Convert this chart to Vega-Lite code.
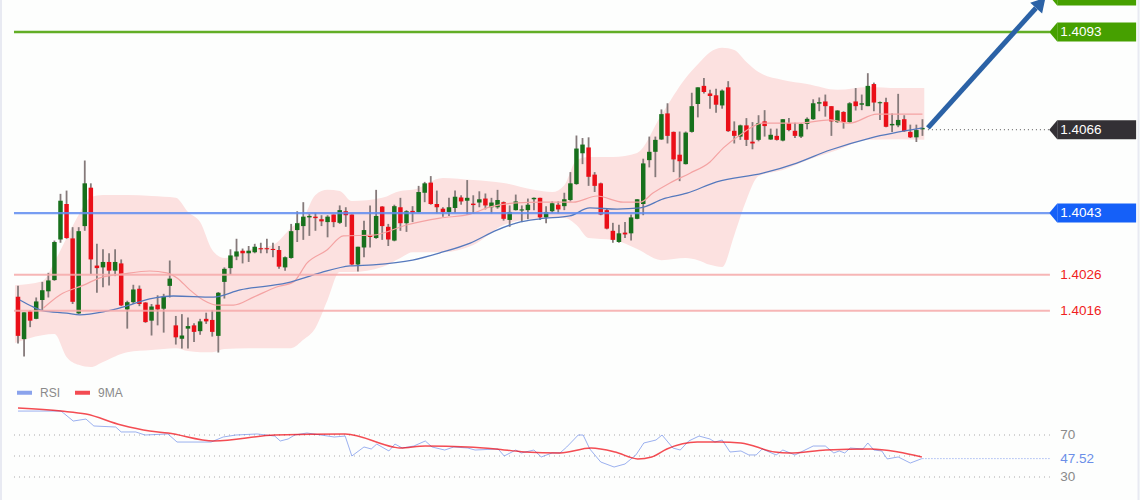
{
  "$schema": "https://vega.github.io/schema/vega-lite/v6.json",
  "description": "Hourly candlestick chart with Bollinger band, key levels and RSI panel",
  "width": 1140,
  "height": 500,
  "autosize": {"type": "none"},
  "padding": 0,
  "background": "#fdfefd",
  "config": {
    "view": {"stroke": null},
    "axis": {"disable": true},
    "font": "Liberation Sans"
  },
  "datasets": {
    "candles": [
      {"bar":0,"open":1.40199,"high":1.40229,"low":1.4007,"close":1.40091},
      {"bar":1,"open":1.40082,"high":1.40156,"low":1.40034,"close":1.40156},
      {"bar":2,"open":1.40159,"high":1.40162,"low":1.40115,"close":1.40133},
      {"bar":3,"open":1.40138,"high":1.40197,"low":1.40137,"close":1.40186},
      {"bar":4,"open":1.4019,"high":1.4024,"low":1.40162,"close":1.40217},
      {"bar":5,"open":1.40214,"high":1.40265,"low":1.40197,"close":1.40244},
      {"bar":6,"open":1.40245,"high":1.40354,"low":1.40243,"close":1.4035},
      {"bar":7,"open":1.40357,"high":1.40483,"low":1.40348,"close":1.40464},
      {"bar":8,"open":1.40455,"high":1.40492,"low":1.40359,"close":1.40361},
      {"bar":9,"open":1.4036,"high":1.40391,"low":1.40179,"close":1.40185},
      {"bar":10,"open":1.40153,"high":1.40391,"low":1.40151,"close":1.4038},
      {"bar":11,"open":1.40394,"high":1.40575,"low":1.40381,"close":1.40512},
      {"bar":12,"open":1.405,"high":1.40512,"low":1.40262,"close":1.40302},
      {"bar":13,"open":1.40285,"high":1.40345,"low":1.4021,"close":1.40278},
      {"bar":14,"open":1.4028,"high":1.4033,"low":1.40225,"close":1.40295},
      {"bar":15,"open":1.40295,"high":1.40319,"low":1.4023,"close":1.40271},
      {"bar":16,"open":1.40271,"high":1.4033,"low":1.40256,"close":1.40295},
      {"bar":17,"open":1.40291,"high":1.40302,"low":1.40173,"close":1.40175},
      {"bar":18,"open":1.40164,"high":1.40188,"low":1.40111,"close":1.40184},
      {"bar":19,"open":1.40184,"high":1.40232,"low":1.40179,"close":1.40219},
      {"bar":20,"open":1.40221,"high":1.4023,"low":1.40173,"close":1.40179},
      {"bar":21,"open":1.40183,"high":1.40184,"low":1.40127,"close":1.40129},
      {"bar":22,"open":1.40133,"high":1.40179,"low":1.40092,"close":1.40172},
      {"bar":23,"open":1.40177,"high":1.40203,"low":1.4012,"close":1.40164},
      {"bar":24,"open":1.40166,"high":1.40207,"low":1.401,"close":1.40199},
      {"bar":25,"open":1.40229,"high":1.40299,"low":1.40197,"close":1.40249},
      {"bar":26,"open":1.4012,"high":1.40146,"low":1.40067,"close":1.40087},
      {"bar":27,"open":1.40083,"high":1.40151,"low":1.40056,"close":1.40092},
      {"bar":28,"open":1.40111,"high":1.40142,"low":1.40056,"close":1.40118},
      {"bar":29,"open":1.4012,"high":1.40126,"low":1.40074,"close":1.40102},
      {"bar":30,"open":1.40104,"high":1.40138,"low":1.40094,"close":1.40131},
      {"bar":31,"open":1.40138,"high":1.40155,"low":1.40124,"close":1.40131},
      {"bar":32,"open":1.40135,"high":1.40162,"low":1.40089,"close":1.40102},
      {"bar":33,"open":1.40091,"high":1.40212,"low":1.40045,"close":1.4021},
      {"bar":34,"open":1.4024,"high":1.4028,"low":1.40194,"close":1.40276},
      {"bar":35,"open":1.40278,"high":1.4033,"low":1.4026,"close":1.40313},
      {"bar":36,"open":1.4031,"high":1.40359,"low":1.403,"close":1.40324},
      {"bar":37,"open":1.40326,"high":1.40332,"low":1.40291,"close":1.40319},
      {"bar":38,"open":1.40319,"high":1.40339,"low":1.40295,"close":1.40326},
      {"bar":39,"open":1.40322,"high":1.40345,"low":1.40319,"close":1.40337},
      {"bar":40,"open":1.40333,"high":1.40348,"low":1.40319,"close":1.4033},
      {"bar":41,"open":1.40333,"high":1.40359,"low":1.40319,"close":1.4033},
      {"bar":42,"open":1.40331,"high":1.40348,"low":1.40308,"close":1.40328},
      {"bar":43,"open":1.40328,"high":1.40339,"low":1.40276,"close":1.40282},
      {"bar":44,"open":1.4028,"high":1.4031,"low":1.40271,"close":1.40308},
      {"bar":45,"open":1.40306,"high":1.404,"low":1.40304,"close":1.4038},
      {"bar":46,"open":1.40383,"high":1.40435,"low":1.4035,"close":1.40402},
      {"bar":47,"open":1.40394,"high":1.4046,"low":1.40356,"close":1.4042},
      {"bar":48,"open":1.40418,"high":1.40427,"low":1.40367,"close":1.40422},
      {"bar":49,"open":1.4042,"high":1.40431,"low":1.40381,"close":1.40416},
      {"bar":50,"open":1.40413,"high":1.40424,"low":1.40394,"close":1.40407},
      {"bar":51,"open":1.40405,"high":1.40424,"low":1.40363,"close":1.4042},
      {"bar":52,"open":1.40426,"high":1.40426,"low":1.40391,"close":1.40405},
      {"bar":53,"open":1.40403,"high":1.40451,"low":1.404,"close":1.40438},
      {"bar":54,"open":1.40435,"high":1.40446,"low":1.40392,"close":1.40424},
      {"bar":55,"open":1.40426,"high":1.40426,"low":1.40286,"close":1.40288},
      {"bar":56,"open":1.40288,"high":1.40337,"low":1.40269,"close":1.40337},
      {"bar":57,"open":1.40335,"high":1.40409,"low":1.40308,"close":1.40383},
      {"bar":58,"open":1.40368,"high":1.40451,"low":1.40335,"close":1.40364},
      {"bar":59,"open":1.40361,"high":1.40494,"low":1.40359,"close":1.40422},
      {"bar":60,"open":1.40448,"high":1.40449,"low":1.40356,"close":1.40394},
      {"bar":61,"open":1.40392,"high":1.404,"low":1.40339,"close":1.40357},
      {"bar":62,"open":1.40354,"high":1.40453,"low":1.40352,"close":1.40449},
      {"bar":63,"open":1.40446,"high":1.40472,"low":1.40381,"close":1.40402},
      {"bar":64,"open":1.40402,"high":1.40438,"low":1.40378,"close":1.40435},
      {"bar":65,"open":1.40436,"high":1.40449,"low":1.40405,"close":1.40431},
      {"bar":66,"open":1.40433,"high":1.40505,"low":1.40431,"close":1.40488},
      {"bar":67,"open":1.40486,"high":1.40516,"low":1.4046,"close":1.40512},
      {"bar":68,"open":1.40514,"high":1.40532,"low":1.40453,"close":1.40455},
      {"bar":69,"open":1.40455,"high":1.40492,"low":1.40429,"close":1.40446},
      {"bar":70,"open":1.40442,"high":1.40446,"low":1.4042,"close":1.40433},
      {"bar":71,"open":1.40433,"high":1.40472,"low":1.40422,"close":1.40446},
      {"bar":72,"open":1.40444,"high":1.40492,"low":1.40431,"close":1.40475},
      {"bar":73,"open":1.40473,"high":1.40479,"low":1.40453,"close":1.40462},
      {"bar":74,"open":1.40464,"high":1.40521,"low":1.40426,"close":1.40472},
      {"bar":75,"open":1.40456,"high":1.40479,"low":1.40429,"close":1.40452},
      {"bar":76,"open":1.40459,"high":1.4049,"low":1.40446,"close":1.40468},
      {"bar":77,"open":1.4047,"high":1.40484,"low":1.4044,"close":1.40451},
      {"bar":78,"open":1.40446,"high":1.40472,"low":1.40429,"close":1.40459},
      {"bar":79,"open":1.40446,"high":1.40494,"low":1.40442,"close":1.40466},
      {"bar":80,"open":1.4046,"high":1.40462,"low":1.40409,"close":1.40414},
      {"bar":81,"open":1.40411,"high":1.40451,"low":1.40392,"close":1.40433},
      {"bar":82,"open":1.40438,"high":1.40481,"low":1.40437,"close":1.40462},
      {"bar":83,"open":1.40437,"high":1.40451,"low":1.40405,"close":1.4044},
      {"bar":84,"open":1.40438,"high":1.4047,"low":1.40413,"close":1.40453},
      {"bar":85,"open":1.40468,"high":1.40473,"low":1.40438,"close":1.40472},
      {"bar":86,"open":1.40472,"high":1.40472,"low":1.40411,"close":1.40418},
      {"bar":87,"open":1.40418,"high":1.40449,"low":1.40402,"close":1.40433},
      {"bar":88,"open":1.40435,"high":1.40462,"low":1.40431,"close":1.40457},
      {"bar":89,"open":1.40453,"high":1.40462,"low":1.40429,"close":1.4044},
      {"bar":90,"open":1.40449,"high":1.40486,"low":1.40438,"close":1.40468},
      {"bar":91,"open":1.40466,"high":1.40543,"low":1.40462,"close":1.40512},
      {"bar":92,"open":1.4051,"high":1.40644,"low":1.40508,"close":1.40608},
      {"bar":93,"open":1.40595,"high":1.40637,"low":1.40565,"close":1.40619},
      {"bar":94,"open":1.40611,"high":1.40639,"low":1.40505,"close":1.4053},
      {"bar":95,"open":1.40536,"high":1.40543,"low":1.40488,"close":1.40505},
      {"bar":96,"open":1.40512,"high":1.40514,"low":1.40424,"close":1.40426},
      {"bar":97,"open":1.40438,"high":1.40442,"low":1.40385,"close":1.40387},
      {"bar":98,"open":1.40381,"high":1.40403,"low":1.40348,"close":1.40356},
      {"bar":99,"open":1.4035,"high":1.40398,"low":1.40348,"close":1.40374},
      {"bar":100,"open":1.40376,"high":1.40405,"low":1.40361,"close":1.40371},
      {"bar":101,"open":1.40374,"high":1.40426,"low":1.40354,"close":1.40418},
      {"bar":102,"open":1.40414,"high":1.40468,"low":1.40413,"close":1.40468},
      {"bar":103,"open":1.40455,"high":1.4058,"low":1.40424,"close":1.40567},
      {"bar":104,"open":1.40576,"high":1.40641,"low":1.40556,"close":1.40599},
      {"bar":105,"open":1.40599,"high":1.40641,"low":1.40529,"close":1.40632},
      {"bar":106,"open":1.40633,"high":1.40716,"low":1.40632,"close":1.40703},
      {"bar":107,"open":1.40705,"high":1.40733,"low":1.40622,"close":1.40643},
      {"bar":108,"open":1.40654,"high":1.40655,"low":1.40543,"close":1.40578},
      {"bar":109,"open":1.40591,"high":1.40655,"low":1.40518,"close":1.40573},
      {"bar":110,"open":1.40565,"high":1.40655,"low":1.40564,"close":1.40652},
      {"bar":111,"open":1.40654,"high":1.40762,"low":1.40652,"close":1.40725},
      {"bar":112,"open":1.40731,"high":1.40777,"low":1.40694,"close":1.40777},
      {"bar":113,"open":1.40781,"high":1.40803,"low":1.4076,"close":1.40764},
      {"bar":114,"open":1.4076,"high":1.4077,"low":1.40718,"close":1.40753},
      {"bar":115,"open":1.40755,"high":1.40773,"low":1.40707,"close":1.40729},
      {"bar":116,"open":1.40727,"high":1.40771,"low":1.40718,"close":1.40768},
      {"bar":117,"open":1.40777,"high":1.40794,"low":1.40654,"close":1.40656},
      {"bar":118,"open":1.40657,"high":1.40683,"low":1.40622,"close":1.40643},
      {"bar":119,"open":1.40641,"high":1.40674,"low":1.40632,"close":1.40672},
      {"bar":120,"open":1.40672,"high":1.40692,"low":1.40615,"close":1.40632},
      {"bar":121,"open":1.40627,"high":1.40681,"low":1.40606,"close":1.40622},
      {"bar":122,"open":1.40632,"high":1.407,"low":1.40628,"close":1.40678},
      {"bar":123,"open":1.40683,"high":1.40714,"low":1.40641,"close":1.4067},
      {"bar":124,"open":1.40633,"high":1.40663,"low":1.40632,"close":1.40646},
      {"bar":125,"open":1.40643,"high":1.40663,"low":1.4063,"close":1.40632},
      {"bar":126,"open":1.4063,"high":1.40689,"low":1.40628,"close":1.40689},
      {"bar":127,"open":1.40678,"high":1.40692,"low":1.40656,"close":1.40659},
      {"bar":128,"open":1.40657,"high":1.40679,"low":1.40637,"close":1.40643},
      {"bar":129,"open":1.40641,"high":1.40678,"low":1.40637,"close":1.40676},
      {"bar":130,"open":1.40676,"high":1.40694,"low":1.40661,"close":1.4069},
      {"bar":131,"open":1.40689,"high":1.40744,"low":1.40687,"close":1.40733},
      {"bar":132,"open":1.40732,"high":1.40749,"low":1.40711,"close":1.40736},
      {"bar":133,"open":1.40738,"high":1.40757,"low":1.40696,"close":1.40725},
      {"bar":134,"open":1.40725,"high":1.40725,"low":1.40643,"close":1.40683},
      {"bar":135,"open":1.40681,"high":1.40714,"low":1.40679,"close":1.40713},
      {"bar":136,"open":1.40709,"high":1.40711,"low":1.40663,"close":1.40681},
      {"bar":137,"open":1.40681,"high":1.40736,"low":1.40679,"close":1.40733},
      {"bar":138,"open":1.40738,"high":1.40775,"low":1.40713,"close":1.40725},
      {"bar":139,"open":1.40729,"high":1.40757,"low":1.40714,"close":1.40733},
      {"bar":140,"open":1.40725,"high":1.40816,"low":1.40725,"close":1.40781},
      {"bar":141,"open":1.40786,"high":1.4079,"low":1.40711,"close":1.40735},
      {"bar":142,"open":1.40733,"high":1.40738,"low":1.40687,"close":1.40736},
      {"bar":143,"open":1.40736,"high":1.40748,"low":1.40667,"close":1.40668},
      {"bar":144,"open":1.40672,"high":1.40705,"low":1.40654,"close":1.40676},
      {"bar":145,"open":1.40672,"high":1.40759,"low":1.40667,"close":1.40687},
      {"bar":146,"open":1.40689,"high":1.407,"low":1.40654,"close":1.40656},
      {"bar":147,"open":1.40654,"high":1.40674,"low":1.40637,"close":1.40639},
      {"bar":148,"open":1.40639,"high":1.40674,"low":1.40626,"close":1.40659},
      {"bar":149,"open":1.40661,"high":1.40689,"low":1.40643,"close":1.40665}
    ],
    "band": [
      {"bar":-0.5,"upper":1.40231,"lower":1.40071},
      {"bar":4,"upper":1.40242,"lower":1.40093},
      {"bar":6,"upper":1.40295,"lower":1.40096},
      {"bar":8,"upper":1.40361,"lower":1.40033},
      {"bar":10,"upper":1.40425,"lower":1.40011},
      {"bar":12,"upper":1.40474,"lower":1.40005},
      {"bar":14,"upper":1.4048,"lower":1.40019},
      {"bar":18,"upper":1.4048,"lower":1.40046},
      {"bar":22,"upper":1.40477,"lower":1.40052},
      {"bar":26,"upper":1.40472,"lower":1.40057},
      {"bar":28,"upper":1.40433,"lower":1.40049},
      {"bar":30,"upper":1.40405,"lower":1.40046},
      {"bar":32,"upper":1.40328,"lower":1.40046},
      {"bar":34,"upper":1.40306,"lower":1.40055},
      {"bar":38,"upper":1.40328,"lower":1.40057},
      {"bar":42,"upper":1.40342,"lower":1.40057},
      {"bar":45,"upper":1.40389,"lower":1.40057},
      {"bar":47,"upper":1.40416,"lower":1.4008},
      {"bar":49,"upper":1.4048,"lower":1.40113},
      {"bar":51,"upper":1.40494,"lower":1.4019},
      {"bar":53,"upper":1.40491,"lower":1.40267},
      {"bar":55,"upper":1.40463,"lower":1.40267},
      {"bar":60,"upper":1.40472,"lower":1.40281},
      {"bar":63,"upper":1.40491,"lower":1.40306},
      {"bar":65,"upper":1.40494,"lower":1.40322},
      {"bar":70,"upper":1.40527,"lower":1.40322},
      {"bar":75,"upper":1.40521,"lower":1.40342},
      {"bar":80,"upper":1.40513,"lower":1.40397},
      {"bar":85,"upper":1.40494,"lower":1.40414},
      {"bar":88,"upper":1.40488,"lower":1.40416},
      {"bar":90,"upper":1.40507,"lower":1.40416},
      {"bar":92,"upper":1.40576,"lower":1.40397},
      {"bar":94,"upper":1.40585,"lower":1.40361},
      {"bar":98,"upper":1.40585,"lower":1.40356},
      {"bar":102,"upper":1.40596,"lower":1.40331},
      {"bar":106,"upper":1.40701,"lower":1.403},
      {"bar":110,"upper":1.40803,"lower":1.40306},
      {"bar":112,"upper":1.40841,"lower":1.403},
      {"bar":114,"upper":1.40874,"lower":1.40287},
      {"bar":116,"upper":1.40886,"lower":1.40281},
      {"bar":118,"upper":1.4088,"lower":1.40369},
      {"bar":120,"upper":1.40847,"lower":1.40466},
      {"bar":122,"upper":1.40819,"lower":1.40532},
      {"bar":126,"upper":1.40797,"lower":1.40549},
      {"bar":130,"upper":1.40786,"lower":1.40576},
      {"bar":135,"upper":1.4077,"lower":1.40604},
      {"bar":140,"upper":1.40778,"lower":1.40632},
      {"bar":145,"upper":1.40775,"lower":1.40634},
      {"bar":149.3,"upper":1.40775,"lower":1.40632}
    ],
    "ma_fast": [
      {"bar":4.2,"price":1.40168},{"bar":6.9,"price":1.40204},{"bar":10.8,"price":1.40231},{"bar":13.5,"price":1.40251},
      {"bar":17.4,"price":1.40262},{"bar":21.7,"price":1.4027},{"bar":24.5,"price":1.40265},{"bar":26.2,"price":1.40251},
      {"bar":28.3,"price":1.40218},{"bar":30.5,"price":1.4019},{"bar":32.7,"price":1.40176},{"bar":35.5,"price":1.40176},
      {"bar":38.8,"price":1.40198},{"bar":42.6,"price":1.40226},{"bar":45.4,"price":1.4024},{"bar":47.6,"price":1.40292},
      {"bar":50.9,"price":1.40328},{"bar":53.6,"price":1.40367},{"bar":58.5,"price":1.40369},{"bar":64,"price":1.40397},
      {"bar":69.5,"price":1.40416},{"bar":74.5,"price":1.40427},{"bar":77.8,"price":1.40447},{"bar":82.2,"price":1.40458},
      {"bar":86,"price":1.4046},{"bar":91.5,"price":1.4046},{"bar":95.4,"price":1.40477},{"bar":99.7,"price":1.4046},
      {"bar":102.5,"price":1.4046},{"bar":104.6,"price":1.40485},{"bar":107.4,"price":1.40513},{"bar":110.7,"price":1.4054},
      {"bar":114,"price":1.40571},{"bar":116.2,"price":1.4061},{"bar":118.9,"price":1.40645},{"bar":122.7,"price":1.40678},
      {"bar":128.3,"price":1.40678},{"bar":133.8,"price":1.40687},{"bar":137,"price":1.40678},{"bar":141.5,"price":1.40703},
      {"bar":149,"price":1.40703}
    ],
    "ma_slow": [
      {"bar":0.3,"price":1.4019},{"bar":2.5,"price":1.40171},{"bar":4.2,"price":1.4016},{"bar":8,"price":1.40154},
      {"bar":10.2,"price":1.40149},{"bar":14,"price":1.40157},{"bar":17.4,"price":1.40171},{"bar":21.7,"price":1.40193},
      {"bar":25.6,"price":1.40201},{"bar":32.2,"price":1.40198},{"bar":36.6,"price":1.40218},{"bar":44.3,"price":1.40237},
      {"bar":49.8,"price":1.40265},{"bar":54.7,"price":1.40284},{"bar":58.5,"price":1.40287},{"bar":65,"price":1.403},
      {"bar":69.5,"price":1.4032},{"bar":74.5,"price":1.40347},{"bar":78.9,"price":1.40383},{"bar":82.2,"price":1.40403},
      {"bar":86,"price":1.40414},{"bar":90.9,"price":1.40422},{"bar":94.2,"price":1.40444},{"bar":98.7,"price":1.40441},
      {"bar":102.5,"price":1.40444},{"bar":106.3,"price":1.40469},{"bar":110.2,"price":1.40485},{"bar":115.1,"price":1.40516},
      {"bar":122.7,"price":1.4054},{"bar":128.3,"price":1.40568},{"bar":133.8,"price":1.40604},{"bar":140.4,"price":1.40637},
      {"bar":149,"price":1.40665}
    ],
    "levels": [
      {"level":"target2","price":1.41029,"label":""},
      {"level":"target","price":1.4093,"label":"1.4093"},
      {"level":"last","price":1.4066,"label":"1.4066"},
      {"level":"pivot","price":1.4043,"label":"1.4043"},
      {"level":"stop","price":1.4026,"label":"1.4026"},
      {"level":"stop","price":1.4016,"label":"1.4016"}
    ],
    "rsi": [
      {"bar":0,"rsi":92.8,"series":"RSI"},{"bar":7.1,"rsi":92.8,"series":"RSI"},{"bar":9.1,"rsi":83.3,"series":"RSI"},{"bar":11.2,"rsi":85.2,"series":"RSI"},
      {"bar":12.5,"rsi":78.6,"series":"RSI"},{"bar":16.1,"rsi":77.6,"series":"RSI"},{"bar":17,"rsi":72.9,"series":"RSI"},{"bar":19.4,"rsi":72.9,"series":"RSI"},
      {"bar":20.9,"rsi":70,"series":"RSI"},{"bar":24.7,"rsi":71,"series":"RSI"},{"bar":26.2,"rsi":63.3,"series":"RSI"},{"bar":31.8,"rsi":63.3,"series":"RSI"},
      {"bar":33.8,"rsi":68.1,"series":"RSI"},{"bar":35.9,"rsi":70,"series":"RSI"},{"bar":39.4,"rsi":71,"series":"RSI"},{"bar":42.3,"rsi":69,"series":"RSI"},
      {"bar":43.2,"rsi":64.3,"series":"RSI"},{"bar":44.5,"rsi":66.2,"series":"RSI"},{"bar":45.6,"rsi":70,"series":"RSI"},{"bar":47.6,"rsi":71.9,"series":"RSI"},
      {"bar":49.9,"rsi":70,"series":"RSI"},{"bar":52.1,"rsi":68.1,"series":"RSI"},{"bar":53.9,"rsi":69,"series":"RSI"},{"bar":55,"rsi":50,"series":"RSI"},
      {"bar":57,"rsi":58.6,"series":"RSI"},{"bar":58.2,"rsi":56.7,"series":"RSI"},{"bar":59.1,"rsi":61.4,"series":"RSI"},{"bar":61.1,"rsi":54.8,"series":"RSI"},
      {"bar":62.1,"rsi":61.4,"series":"RSI"},{"bar":63.3,"rsi":57.6,"series":"RSI"},{"bar":65.2,"rsi":59.5,"series":"RSI"},{"bar":67.1,"rsi":64.3,"series":"RSI"},
      {"bar":68.2,"rsi":58.6,"series":"RSI"},{"bar":70.3,"rsi":55.7,"series":"RSI"},{"bar":71.8,"rsi":58.6,"series":"RSI"},{"bar":74.1,"rsi":57.6,"series":"RSI"},
      {"bar":75.3,"rsi":55.7,"series":"RSI"},{"bar":79.1,"rsi":56.7,"series":"RSI"},{"bar":80.1,"rsi":50,"series":"RSI"},{"bar":82,"rsi":55.7,"series":"RSI"},
      {"bar":82.9,"rsi":52.9,"series":"RSI"},{"bar":85,"rsi":55.7,"series":"RSI"},{"bar":86.2,"rsi":49.1,"series":"RSI"},{"bar":88,"rsi":52.9,"series":"RSI"},
      {"bar":89.3,"rsi":52.9,"series":"RSI"},{"bar":90.4,"rsi":58.6,"series":"RSI"},{"bar":92.3,"rsi":70,"series":"RSI"},{"bar":93.1,"rsi":70,"series":"RSI"},
      {"bar":94.2,"rsi":56.7,"series":"RSI"},{"bar":96,"rsi":44.3,"series":"RSI"},{"bar":98.2,"rsi":39.5,"series":"RSI"},{"bar":100,"rsi":42.4,"series":"RSI"},
      {"bar":101.8,"rsi":51,"series":"RSI"},{"bar":103.1,"rsi":62.4,"series":"RSI"},{"bar":105.1,"rsi":65.2,"series":"RSI"},{"bar":106.1,"rsi":70,"series":"RSI"},
      {"bar":107.9,"rsi":57.6,"series":"RSI"},{"bar":109.1,"rsi":55.7,"series":"RSI"},{"bar":110.5,"rsi":64.3,"series":"RSI"},{"bar":112.2,"rsi":69,"series":"RSI"},
      {"bar":114,"rsi":66.2,"series":"RSI"},{"bar":114.8,"rsi":63.3,"series":"RSI"},{"bar":116,"rsi":65.2,"series":"RSI"},{"bar":117.3,"rsi":53.8,"series":"RSI"},
      {"bar":119.1,"rsi":54.8,"series":"RSI"},{"bar":120.4,"rsi":51,"series":"RSI"},{"bar":121.6,"rsi":51,"series":"RSI"},{"bar":122.6,"rsi":56.7,"series":"RSI"},
      {"bar":124.9,"rsi":51,"series":"RSI"},{"bar":126,"rsi":55.7,"series":"RSI"},{"bar":128,"rsi":51,"series":"RSI"},{"bar":131,"rsi":59.5,"series":"RSI"},
      {"bar":133,"rsi":59.5,"series":"RSI"},{"bar":134.4,"rsi":52.9,"series":"RSI"},{"bar":135.3,"rsi":54.8,"series":"RSI"},{"bar":136.2,"rsi":52.9,"series":"RSI"},
      {"bar":137.1,"rsi":57.6,"series":"RSI"},{"bar":139.2,"rsi":56.7,"series":"RSI"},{"bar":140,"rsi":62.4,"series":"RSI"},{"bar":141,"rsi":55.7,"series":"RSI"},
      {"bar":142.3,"rsi":54.8,"series":"RSI"},{"bar":143.2,"rsi":47.2,"series":"RSI"},{"bar":145,"rsi":49.1,"series":"RSI"},{"bar":147,"rsi":43.3,"series":"RSI"},
      {"bar":148.9,"rsi":47.5,"series":"RSI"}
    ],
    "rsi_ma": [
      {"bar":0,"rsi":95.7,"series":"9MA"},{"bar":7.1,"rsi":92.8,"series":"9MA"},{"bar":11.2,"rsi":90,"series":"9MA"},{"bar":17,"rsi":79.5,"series":"9MA"},
      {"bar":21.7,"rsi":73.8,"series":"9MA"},{"bar":24.7,"rsi":71.9,"series":"9MA"},{"bar":32.3,"rsi":64.3,"series":"9MA"},{"bar":42.3,"rsi":70,"series":"9MA"},
      {"bar":53.9,"rsi":71,"series":"9MA"},{"bar":61.8,"rsi":58.6,"series":"9MA"},{"bar":62.9,"rsi":57.6,"series":"9MA"},{"bar":67.1,"rsi":59.5,"series":"9MA"},
      {"bar":74.1,"rsi":58.6,"series":"9MA"},{"bar":78.7,"rsi":56.7,"series":"9MA"},{"bar":83.5,"rsi":53.8,"series":"9MA"},{"bar":89.3,"rsi":52.9,"series":"9MA"},
      {"bar":94.4,"rsi":57.6,"series":"9MA"},{"bar":98.4,"rsi":53.8,"series":"9MA"},{"bar":102.1,"rsi":47.2,"series":"9MA"},{"bar":104.4,"rsi":49.1,"series":"9MA"},
      {"bar":106.9,"rsi":56.7,"series":"9MA"},{"bar":111.9,"rsi":63.3,"series":"9MA"},{"bar":115.5,"rsi":63.3,"series":"9MA"},{"bar":119.1,"rsi":62.4,"series":"9MA"},
      {"bar":124.7,"rsi":53.8,"series":"9MA"},{"bar":127,"rsi":52.9,"series":"9MA"},{"bar":133.1,"rsi":55.7,"series":"9MA"},{"bar":140.5,"rsi":56.7,"series":"9MA"},
      {"bar":145,"rsi":53.8,"series":"9MA"},{"bar":148.9,"rsi":49.1,"series":"9MA"}
    ]
  },
  "layer": [
    {
      "layer": [
        {
          "data": {"values": [{"edge": -2.8}, {"edge": 184.6}]},
          "mark": {"type": "rule", "color": "#e8eaf2", "strokeWidth": 2},
          "encoding": {
            "x": {
              "field": "edge",
              "type": "quantitative",
              "scale": {"domain": [-2.965, 184.84], "nice": false, "zero": false, "padding": 0}
            }
          }
        },
        {
          "data": {"name": "band"},
          "mark": {"type": "area", "color": "#fce1e0", "interpolate": "monotone"},
          "encoding": {
            "x": {"field": "bar", "type": "quantitative"},
            "y": {
              "field": "upper",
              "type": "quantitative",
              "scale": {"domain": [1.39638, 1.41018], "nice": false, "zero": false}
            },
            "y2": {"field": "lower"}
          }
        },
        {
          "data": {"name": "candles"},
          "mark": {"type": "rule", "color": "#857a7a", "strokeWidth": 1.8},
          "encoding": {
            "x": {"field": "bar", "type": "quantitative"},
            "y": {"field": "high", "type": "quantitative"},
            "y2": {"field": "low"}
          }
        },
        {
          "data": {"name": "candles"},
          "mark": {"type": "bar", "size": 4.5, "orient": "vertical"},
          "encoding": {
            "x": {
              "field": "bar",
              "type": "quantitative",
              "scale": {"domain": [-2.965, 184.84], "nice": false, "zero": false, "padding": 0}
            },
            "y": {"field": "open", "type": "quantitative"},
            "y2": {"field": "close"},
            "color": {
              "condition": {"test": "datum.close >= datum.open", "value": "#17701c"},
              "value": "#ea0f18"
            }
          }
        },
        {
          "data": {"name": "ma_fast"},
          "mark": {"type": "line", "color": "#f4a3a3", "strokeWidth": 1.2, "interpolate": "monotone"},
          "encoding": {
            "x": {"field": "bar", "type": "quantitative"},
            "y": {"field": "price", "type": "quantitative"}
          }
        },
        {
          "data": {"name": "ma_slow"},
          "mark": {"type": "line", "color": "#5579bd", "strokeWidth": 1.3, "interpolate": "monotone"},
          "encoding": {
            "x": {"field": "bar", "type": "quantitative"},
            "y": {"field": "price", "type": "quantitative"}
          }
        },
        {
          "data": {"name": "levels"},
          "transform": [{"filter": "datum.level != 'last' && datum.level != 'target2'"}],
          "mark": {"type": "rule", "opacity": 0.85},
          "encoding": {
            "x": {"datum": -0.66},
            "x2": {"datum": 170},
            "y": {"field": "price", "type": "quantitative"},
            "color": {
              "field": "level",
              "type": "nominal",
              "legend": null,
              "scale": {
                "domain": ["target", "pivot", "stop"],
                "range": ["#46a000", "#5f8cf0", "#f6a9a9"]
              }
            },
            "strokeWidth": {
              "field": "level",
              "type": "nominal",
              "legend": null,
              "scale": {"domain": ["target", "pivot", "stop"], "range": [2.5, 2, 1.5]}
            }
          }
        },
        {
          "data": {"name": "levels"},
          "transform": [{"filter": "datum.level == 'last'"}],
          "mark": {"type": "rule", "color": "#555555", "strokeWidth": 1, "strokeDash": [1, 3]},
          "encoding": {
            "x": {"datum": 149.9},
            "x2": {"datum": 170},
            "y": {"field": "price", "type": "quantitative"}
          }
        },
        {
          "data": {"name": "levels"},
          "transform": [{"filter": "datum.level != 'stop'"}],
          "mark": {"type": "rule", "strokeWidth": 19},
          "encoding": {
            "x": {"datum": 171.2},
            "x2": {"datum": 184.2},
            "y": {"field": "price", "type": "quantitative"},
            "stroke": {
              "field": "level",
              "type": "nominal",
              "legend": null,
              "scale": {
                "domain": ["target2", "target", "last", "pivot"],
                "range": ["#46a000", "#46a000", "#333035", "#1560f8"]
              }
            }
          }
        },
        {
          "data": {"name": "levels"},
          "transform": [{"filter": "datum.level != 'stop'"}],
          "mark": {
            "type": "point",
            "filled": true,
            "opacity": 1,
            "shape": "M-0.84,0L0,-1L0,1Z",
            "size": 361
          },
          "encoding": {
            "x": {"datum": 171.2},
            "y": {"field": "price", "type": "quantitative"},
            "fill": {
              "field": "level",
              "type": "nominal",
              "legend": null,
              "scale": {
                "domain": ["target2", "target", "last", "pivot"],
                "range": ["#46a000", "#46a000", "#333035", "#1560f8"]
              }
            }
          }
        },
        {
          "data": {"name": "levels"},
          "mark": {"type": "text", "align": "left", "baseline": "middle", "fontSize": 13.5},
          "encoding": {
            "x": {"datum": 171.7},
            "y": {"field": "price", "type": "quantitative"},
            "text": {"field": "label"},
            "color": {
              "condition": {"test": "datum.level == 'stop'", "value": "#f01e22"},
              "value": "#ffffff"
            }
          }
        },
        {
          "data": {"values": [{"start": 149.9, "end": 167.7, "from": 1.40665, "to": 1.40996}]},
          "mark": {"type": "rule", "color": "#2b62a6", "strokeWidth": 5},
          "encoding": {
            "x": {"field": "start", "type": "quantitative"},
            "x2": {"field": "end"},
            "y": {"field": "from", "type": "quantitative"},
            "y2": {"field": "to"}
          }
        },
        {
          "data": {"values": [{"bar": 168.5, "price": 1.4101}]},
          "mark": {
            "type": "point",
            "shape": "triangle-up",
            "filled": true,
            "opacity": 1,
            "color": "#2b62a6",
            "size": 256,
            "angle": 42
          },
          "encoding": {
            "x": {"field": "bar", "type": "quantitative"},
            "y": {"field": "price", "type": "quantitative"}
          }
        }
      ]
    },
    {
      "layer": [
        {
          "data": {"values": [{"rsi": 70, "label": "70"}, {"rsi": 30, "label": "30"}]},
          "mark": {"type": "rule", "color": "#aaaaaa", "strokeWidth": 1, "strokeDash": [1, 4]},
          "encoding": {
            "x": {"datum": -0.66},
            "x2": {"datum": 170},
            "y": {
              "field": "rsi",
              "type": "quantitative",
              "scale": {"domain": [8.1, 484.3], "nice": false, "zero": false}
            }
          }
        },
        {
          "data": {"values": [{"rsi": 50}]},
          "mark": {"type": "rule", "color": "#aaaaaa", "strokeWidth": 1, "strokeDash": [1, 4]},
          "encoding": {
            "x": {"datum": -0.66},
            "x2": {"datum": 149},
            "y": {"field": "rsi", "type": "quantitative"}
          }
        },
        {
          "data": {"values": [{"rsi": 47.52}]},
          "mark": {"type": "rule", "color": "#7f9bee", "strokeWidth": 1, "strokeDash": [1, 2]},
          "encoding": {
            "x": {"datum": 149},
            "x2": {"datum": 170},
            "y": {"field": "rsi", "type": "quantitative"}
          }
        },
        {
          "data": {"values": [{"rsi": 70, "label": "70"}, {"rsi": 30, "label": "30"}]},
          "mark": {"type": "text", "align": "left", "baseline": "middle", "fontSize": 13.5, "color": "#8a8a8a"},
          "encoding": {
            "x": {"datum": 171.7},
            "y": {"field": "rsi", "type": "quantitative"},
            "text": {"field": "label"}
          }
        },
        {
          "data": {"values": [{"rsi": 47.52, "label": "47.52"}]},
          "mark": {"type": "text", "align": "left", "baseline": "middle", "fontSize": 13.5, "color": "#6b8ee8"},
          "encoding": {
            "x": {"datum": 171.7},
            "y": {"field": "rsi", "type": "quantitative"},
            "text": {"field": "label"}
          }
        },
        {
          "data": {"name": "rsi"},
          "mark": {"type": "line", "strokeWidth": 1, "opacity": 0.6},
          "encoding": {
            "x": {"field": "bar", "type": "quantitative"},
            "y": {"field": "rsi", "type": "quantitative"},
            "color": {
              "field": "series",
              "type": "nominal",
              "sort": null,
              "scale": {"domain": ["RSI", "9MA"], "range": ["#5a7de6", "#f0000a"]},
              "legend": {
                "title": null,
                "orient": "none",
                "legendX": 15,
                "legendY": 383,
                "direction": "horizontal",
                "symbolType": "stroke",
                "symbolStrokeWidth": 4,
                "symbolSize": 225,
                "symbolOpacity": 1,
                "labelFontSize": 12,
                "labelColor": "#8a8a8a",
                "columnPadding": 6,
                "labelOffset": 6
              }
            }
          }
        },
        {
          "data": {"name": "rsi_ma"},
          "mark": {"type": "line", "strokeWidth": 1.5, "opacity": 0.7, "interpolate": "monotone"},
          "encoding": {
            "x": {"field": "bar", "type": "quantitative"},
            "y": {"field": "rsi", "type": "quantitative"},
            "color": {"field": "series", "type": "nominal"}
          }
        }
      ]
    }
  ],
  "resolve": {"scale": {"y": "independent", "color": "independent"}}
}
